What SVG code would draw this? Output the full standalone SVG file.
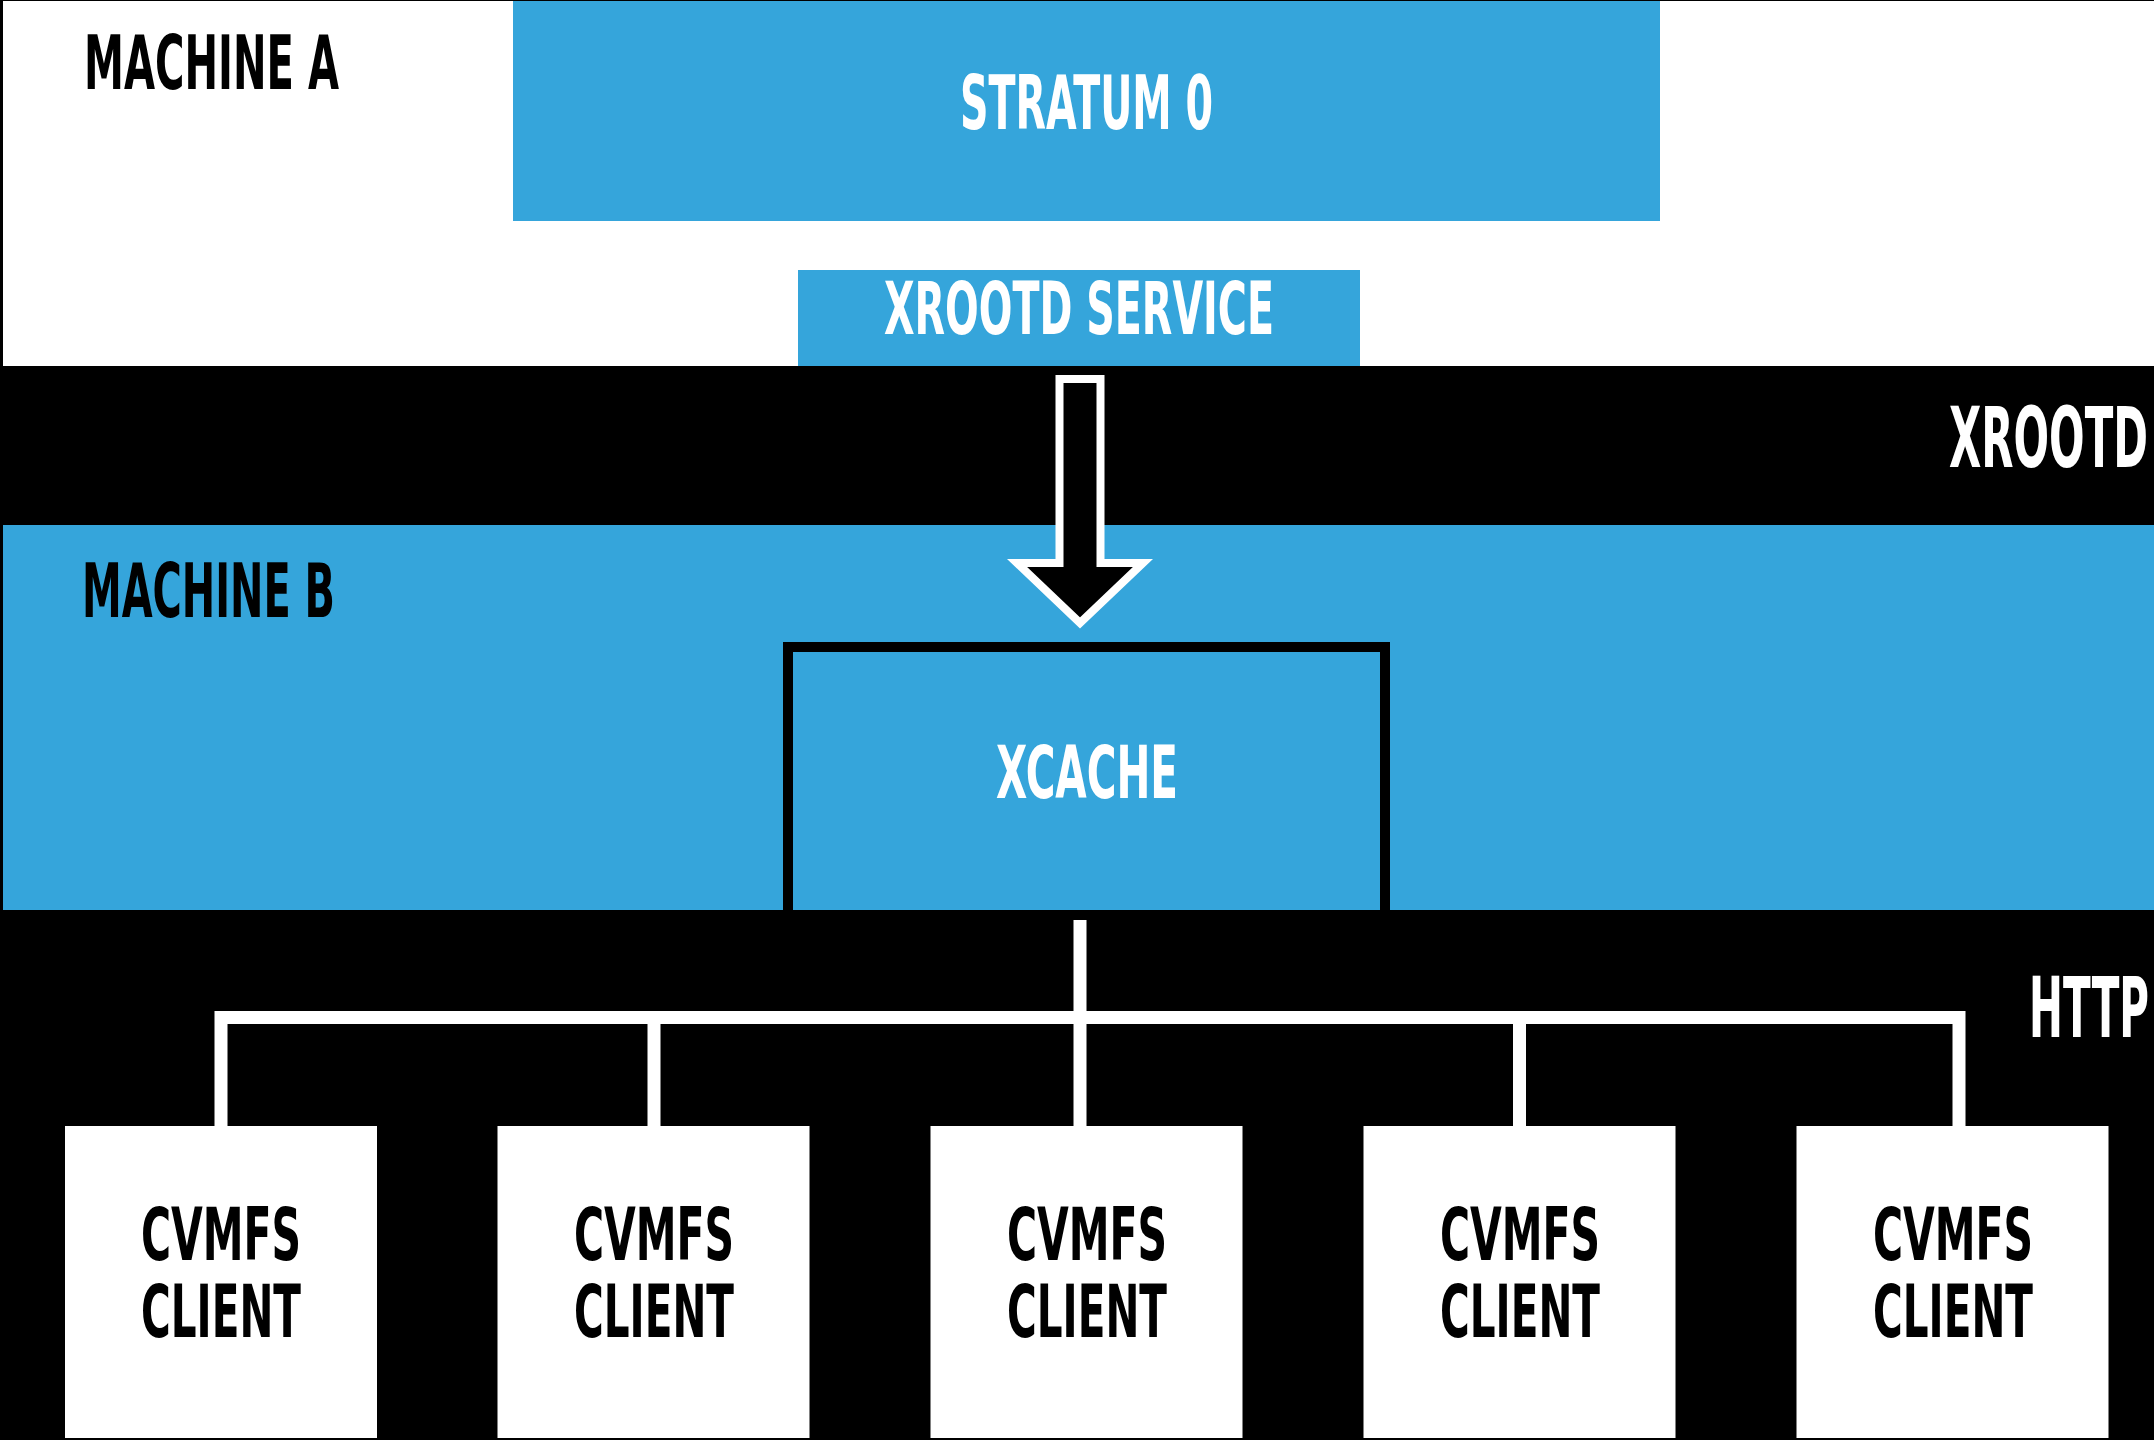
<svg xmlns="http://www.w3.org/2000/svg" width="2154" height="1440" viewBox="0 0 2154 1440">
<style>
  .lbl { font-family: "DejaVu Sans Condensed", "DejaVu Sans", "Liberation Sans", sans-serif; font-weight: bold; font-stretch: condensed; }
  .w { fill: #ffffff; }
  .k { fill: #000000; }
  .blue { fill: #35A5DB; }
  .conn { fill: none; stroke: #ffffff; stroke-width: 13; stroke-linecap: butt; stroke-linejoin: miter; }
  .client { fill: #ffffff; }
</style>
<rect x="0" y="0" width="2154" height="1440" fill="#000000"/>

<g id="machine-a">
  <rect x="3" y="1" width="2151" height="365" fill="#ffffff"/>
  <text class="lbl k" x="84" y="89" font-size="74" textLength="255" lengthAdjust="spacingAndGlyphs">MACHINE A</text>
</g>

<g id="stratum-0">
  <rect class="blue" x="513" y="1" width="1147" height="220"/>
  <text class="lbl w" x="960" y="129" font-size="74" textLength="253" lengthAdjust="spacingAndGlyphs">STRATUM 0</text>
</g>

<g id="xrootd-service">
  <rect class="blue" x="798" y="270" width="562" height="96"/>
  <text class="lbl w" x="884" y="334" font-size="73" textLength="390" lengthAdjust="spacingAndGlyphs">XROOTD SERVICE</text>
</g>

<g id="xrootd-label">
  <text class="lbl w" x="2148" y="467" font-size="84" text-anchor="end" textLength="199" lengthAdjust="spacingAndGlyphs">XROOTD</text>
</g>

<g id="machine-b">
  <rect class="blue" x="3" y="525" width="2151" height="385"/>
  <text class="lbl k" x="82" y="617" font-size="74" textLength="253" lengthAdjust="spacingAndGlyphs">MACHINE B</text>
</g>

<g id="xcache">
  <rect class="blue" x="788" y="647" width="597" height="263"/>
  <path d="M788 912 V647 H1385 V912" fill="none" stroke="#000000" stroke-width="10" stroke-linejoin="miter"/>
  <text class="lbl w" x="996" y="798" font-size="73" textLength="182" lengthAdjust="spacingAndGlyphs">XCACHE</text>
</g>

<g id="http-label">
  <text class="lbl w" x="2149" y="1037" font-size="84" text-anchor="end" textLength="120" lengthAdjust="spacingAndGlyphs">HTTP</text>
</g>

<g id="connectors">
  <polygon points="1059.5,379 1100.5,379 1100.5,563 1143,563 1080,623 1017,563 1059.5,563" fill="#000000" stroke="#ffffff" stroke-width="8" stroke-linejoin="miter"/>
  <path class="conn" d="M1080 920 V1126"/>
  <path class="conn" d="M221 1126 V1017.5 H1959 V1126"/>
  <path class="conn" d="M654 1017.5 V1126"/>
  <path class="conn" d="M1519.5 1017.5 V1126"/>
</g>

<g id="client-1">
  <rect class="client" x="65" y="1126" width="312" height="312"/>
  <text class="lbl k" x="221" y="1260" font-size="73" text-anchor="middle" textLength="160" lengthAdjust="spacingAndGlyphs">CVMFS</text>
  <text class="lbl k" x="221" y="1337" font-size="73" text-anchor="middle" textLength="160" lengthAdjust="spacingAndGlyphs">CLIENT</text>
</g>
<g id="client-2">
  <rect class="client" x="497.5" y="1126" width="312" height="312"/>
  <text class="lbl k" x="654" y="1260" font-size="73" text-anchor="middle" textLength="160" lengthAdjust="spacingAndGlyphs">CVMFS</text>
  <text class="lbl k" x="654" y="1337" font-size="73" text-anchor="middle" textLength="160" lengthAdjust="spacingAndGlyphs">CLIENT</text>
</g>
<g id="client-3">
  <rect class="client" x="930.5" y="1126" width="312" height="312"/>
  <text class="lbl k" x="1087" y="1260" font-size="73" text-anchor="middle" textLength="160" lengthAdjust="spacingAndGlyphs">CVMFS</text>
  <text class="lbl k" x="1087" y="1337" font-size="73" text-anchor="middle" textLength="160" lengthAdjust="spacingAndGlyphs">CLIENT</text>
</g>
<g id="client-4">
  <rect class="client" x="1363.5" y="1126" width="312" height="312"/>
  <text class="lbl k" x="1520" y="1260" font-size="73" text-anchor="middle" textLength="160" lengthAdjust="spacingAndGlyphs">CVMFS</text>
  <text class="lbl k" x="1520" y="1337" font-size="73" text-anchor="middle" textLength="160" lengthAdjust="spacingAndGlyphs">CLIENT</text>
</g>
<g id="client-5">
  <rect class="client" x="1796.5" y="1126" width="312" height="312"/>
  <text class="lbl k" x="1953" y="1260" font-size="73" text-anchor="middle" textLength="160" lengthAdjust="spacingAndGlyphs">CVMFS</text>
  <text class="lbl k" x="1953" y="1337" font-size="73" text-anchor="middle" textLength="160" lengthAdjust="spacingAndGlyphs">CLIENT</text>
</g>
</svg>
